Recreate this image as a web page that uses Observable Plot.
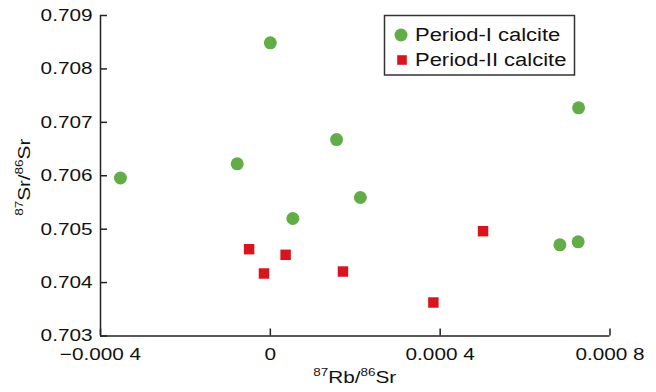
<!DOCTYPE html>
<html><head><meta charset="utf-8">
<script src="https://cdn.jsdelivr.net/npm/d3@7"></script>
<script src="https://cdn.jsdelivr.net/npm/@observablehq/plot@0.6"></script>
<style>body{margin:0;background:#fff} svg{display:block}</style>
</head><body><div id="chart"></div>
<script>
const seriesNames = ["Period-I calcite", "Period-II calcite"];
const seriesColors = ["#62ad47", "#d8141c"];
const period1Rb = [-0.000353, 0.000000, -0.000078, 0.000156, 0.000212, 0.000053, 0.000726, 0.000682, 0.000725];
const period1Sr = [0.705958, 0.708489, 0.706223, 0.706678, 0.705593, 0.705200, 0.707272, 0.704707, 0.704763];
const period2Rb = [-0.000050, -0.000015, 0.000036, 0.000171, 0.000384, 0.000501];
const period2Sr = [0.704625, 0.704170, 0.704520, 0.704207, 0.703627, 0.704962];
const xTicks = [-0.0004, 0, 0.0004, 0.0008];
const xTickLabels = ["−0.000 4", "0", "0.000 4", "0.000 8"];
const yTicks = [0.703, 0.704, 0.705, 0.706, 0.707, 0.708, 0.709];
const yTickLabels = ["0.703", "0.704", "0.705", "0.706", "0.707", "0.708", "0.709"];

const p1 = period1Rb.map((x, i) => ({x, y: period1Sr[i]}));
const p2 = period2Rb.map((x, i) => ({x, y: period2Sr[i]}));

const W = 656, H = 392, mL = 100, mR = 46.5, mT = 15, mB = 56.5;
const axisColor = "#222";

const plot = Plot.plot({
  width: W, height: H,
  marginLeft: mL, marginRight: mR, marginTop: mT, marginBottom: mB,
  x: {domain: [xTicks[0], xTicks[xTicks.length - 1]]},
  y: {domain: [yTicks[0], yTicks[yTicks.length - 1]]},
  style: {fontFamily: "'Liberation Sans', Arial, sans-serif", fontSize: "17px", color: "#111", background: "#fff"},
  marks: [
    Plot.axisX(xTicks, {tickSize: -7, tickPadding: 19, strokeWidth: 1.5, stroke: axisColor,
      tickFormat: d => xTickLabels[xTicks.indexOf(d)], label: null}),
    Plot.axisY(yTicks, {tickSize: -7, tickPadding: 15, strokeWidth: 1.5, stroke: axisColor,
      tickFormat: d => yTickLabels[yTicks.indexOf(d)], label: null}),
    Plot.ruleX([xTicks[0]], {stroke: axisColor, strokeWidth: 1.5}),
    Plot.ruleY([yTicks[0]], {stroke: axisColor, strokeWidth: 1.5}),
    Plot.dot(p1, {x: "x", y: "y", r: 6.5, fill: seriesColors[0], symbol: "circle"}),
    Plot.dot(p2, {x: "x", y: "y", r: 5.9, fill: seriesColors[1], symbol: "square"})
  ]
});
document.getElementById("chart").appendChild(plot);

const svg = d3.select(plot);
const font = "'Liberation Sans', Arial, sans-serif";

// X axis title
const xl = svg.append("text").attr("x", (mL + W - mR) / 2).attr("y", 383)
  .attr("text-anchor", "middle").attr("font-family", font).attr("font-size", 17).attr("fill", "#111");
xl.append("tspan").attr("font-size", 11).attr("dy", -7).text("87");
xl.append("tspan").attr("dy", 7).text("Rb/");
xl.append("tspan").attr("font-size", 11).attr("dy", -7).text("86");
xl.append("tspan").attr("dy", 7).text("Sr");

// Y axis title
const yl = svg.append("text").attr("transform", `translate(30,${(mT + H - mB) / 2 + 2}) rotate(-90)`)
  .attr("text-anchor", "middle").attr("font-family", font).attr("font-size", 17).attr("fill", "#111");
yl.append("tspan").attr("font-size", 11).attr("dy", -7).text("87");
yl.append("tspan").attr("dy", 7).text("Sr/");
yl.append("tspan").attr("font-size", 11).attr("dy", -7).text("86");
yl.append("tspan").attr("dy", 7).text("Sr");

// Legend
const lg = svg.append("g");
lg.append("rect").attr("x", 384.5).attr("y", 15.5).attr("width", 190).attr("height", 59.5)
  .attr("fill", "#fff").attr("stroke", "#333").attr("stroke-width", 1.5);
lg.append("circle").attr("cx", 401).attr("cy", 35).attr("r", 6.5).attr("fill", seriesColors[0]);
lg.append("rect").attr("x", 397.2).attr("y", 55.2).attr("width", 9.6).attr("height", 9.6).attr("fill", seriesColors[1]);
seriesNames.forEach((name, i) => {
  lg.append("text").attr("x", 415).attr("y", 41 + i * 25).attr("text-anchor", "start").attr("font-family", font)
    .attr("font-size", 18).attr("fill", "#111").text(name);
});

// Horizontal stretch of all text to match the reference's wide lettering
svg.selectAll("text").each(function() {
  const w = this.getComputedTextLength();
  if (w > 0) {
    this.setAttribute("textLength", (w * 1.22).toFixed(1));
    this.setAttribute("lengthAdjust", "spacingAndGlyphs");
  }
});
</script>
</body></html>
